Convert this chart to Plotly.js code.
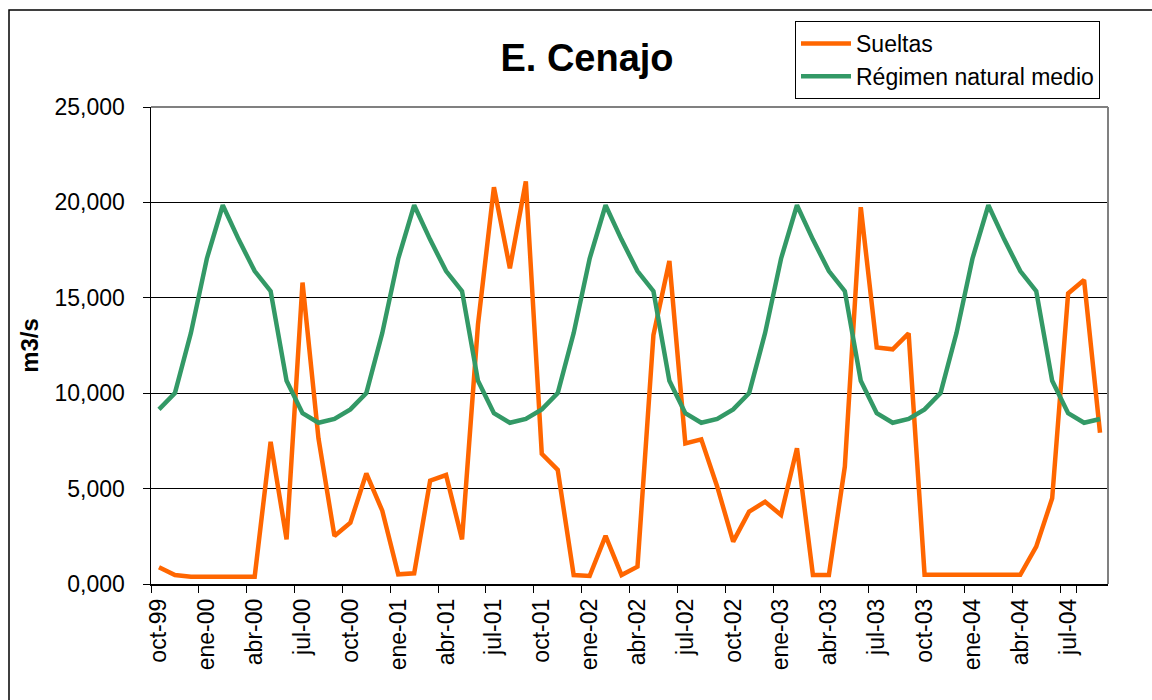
<!DOCTYPE html>
<html>
<head>
<meta charset="utf-8">
<script src="https://cdn.plot.ly/plotly-3.0.1.min.js"></script>
<style>
  html, body { margin: 0; padding: 0; background: #ffffff; }
  #chart { width: 1152px; height: 700px; }
</style>
</head>
<body>
<div id="chart"></div>
<script>
// ---- data ----
const months = [
  "oct-99","nov-99","dic-99","ene-00","feb-00","mar-00","abr-00","may-00","jun-00","jul-00","ago-00","sep-00",
  "oct-00","nov-00","dic-00","ene-01","feb-01","mar-01","abr-01","may-01","jun-01","jul-01","ago-01","sep-01",
  "oct-01","nov-01","dic-01","ene-02","feb-02","mar-02","abr-02","may-02","jun-02","jul-02","ago-02","sep-02",
  "oct-02","nov-02","dic-02","ene-03","feb-03","mar-03","abr-03","may-03","jun-03","jul-03","ago-03","sep-03",
  "oct-03","nov-03","dic-03","ene-04","feb-04","mar-04","abr-04","may-04","jun-04","jul-04","ago-04","sep-04"
];

const sueltas = [
  880, 470, 385, 385, 385, 385, 385, 7450, 2340, 15800, 7630, 2520,
  3210, 5800, 3840, 510, 560, 5420, 5710, 2340, 13600, 20800, 16550, 21100,
  6820, 5980, 470, 420, 2520, 470, 910, 13050, 16930, 7370, 7580, 5100,
  2220, 3790, 4310, 3620, 7110, 470, 470, 6150, 19750, 12400, 12300, 13140,
  490, 490, 480, 480, 480, 480, 480, 1960, 4490, 15230, 15930, 7930
];

const regimenNatural = [
  9150, 10000, 13150, 17050, 19850, 18050, 16400, 15350, 10650, 8950, 8450, 8650,
  9150, 10000, 13150, 17050, 19850, 18050, 16400, 15350, 10650, 8950, 8450, 8650,
  9150, 10000, 13150, 17050, 19850, 18050, 16400, 15350, 10650, 8950, 8450, 8650,
  9150, 10000, 13150, 17050, 19850, 18050, 16400, 15350, 10650, 8950, 8450, 8650,
  9150, 10000, 13150, 17050, 19850, 18050, 16400, 15350, 10650, 8950, 8450, 8650
];

const tickLabels = ["oct-99","ene-00","abr-00","jul-00","oct-00","ene-01","abr-01","jul-01","oct-01","ene-02",
  "abr-02","jul-02","oct-02","ene-03","abr-03","jul-03","oct-03","ene-04","abr-04","jul-04"];

const yTickVals = [0, 5000, 10000, 15000, 20000, 25000];
const yTickText = ["0,000", "5,000", "10,000", "15,000", "20,000", "25,000"];

const seriesNames = ["Sueltas", "Régimen natural medio"];

// ---- chart ----
const FONT = "Liberation Sans, Arial, sans-serif";

const traces = [
  {
    x: months, y: sueltas, name: seriesNames[0], type: "scatter", mode: "lines",
    line: { color: "#FF6600", width: 4.5, shape: "linear" }, hoverinfo: "skip"
  },
  {
    x: months, y: regimenNatural, name: seriesNames[1], type: "scatter", mode: "lines",
    line: { color: "#339966", width: 4.5, shape: "linear" }, hoverinfo: "skip"
  }
];

// plot area in pixels: x 151..1108, y 107..584
const L = 151, R = 44, T = 107, B = 116;
const PW = 1152 - L - R, PH = 700 - T - B;
const px = v => (v - L) / PW;
const py = v => (700 - B - v) / PH;

const layout = {
  width: 1152, height: 700,
  margin: { l: L, r: R, t: T, b: B, pad: 0 },
  paper_bgcolor: "#ffffff", plot_bgcolor: "#ffffff",
  font: { family: FONT, size: 23, color: "#000000" },
  title: {
    text: "<b>E. Cenajo</b>",
    font: { family: FONT, size: 38, color: "#000000" },
    x: 587 / 1152, xanchor: "center", xref: "container",
    y: 1 - 58 / 700, yanchor: "middle", yref: "container"
  },
  showlegend: true,
  legend: {
    x: px(795), y: py(21), xanchor: "left", yanchor: "top",
    bgcolor: "#ffffff", bordercolor: "#000000", borderwidth: 1,
    font: { family: FONT, size: 23, color: "#000000" },
    itemwidth: 50, tracegroupgap: 0
  },
  xaxis: {
    type: "category",
    categoryorder: "array", categoryarray: months,
    range: [-0.5, months.length - 0.5],
    tickmode: "array", tickvals: tickLabels, ticktext: tickLabels,
    tickson: "boundaries",
    ticks: "outside", ticklen: 7, tickwidth: 1, tickcolor: "#000000",
    tickangle: -90,
    ticklabelstandoff: 4,
    tickfont: { family: FONT, size: 23, color: "#000000" },
    showgrid: false, zeroline: false,
    showline: true, linecolor: "#000000", linewidth: 1.5,
    fixedrange: true
  },
  yaxis: {
    range: [0, 25000],
    tickmode: "array", tickvals: yTickVals, ticktext: yTickText,
    ticks: "outside", ticklen: 7, tickwidth: 1, tickcolor: "#000000",
    ticklabelstandoff: 13,
    tickfont: { family: FONT, size: 23, color: "#000000" },
    showgrid: true, gridcolor: "#000000", gridwidth: 1,
    zeroline: false,
    showline: true, linecolor: "#000000", linewidth: 1.5,
    title: { text: "<b>m3/s</b>", font: { family: FONT, size: 24, color: "#000000" }, standoff: 9 },
    fixedrange: true
  },
  shapes: [
    // plot-area border (top and right, grey)
    { type: "line", xref: "paper", yref: "paper", x0: 0, x1: 1, y0: 1, y1: 1,
      line: { color: "#808080", width: 2 } },
    { type: "line", xref: "paper", yref: "paper", x0: 1, x1: 1, y0: 0, y1: 1,
      line: { color: "#808080", width: 2 } },
    // outer chart frame
    { type: "rect", xref: "paper", yref: "paper",
      x0: px(9), x1: px(1170), y0: py(720), y1: py(10),
      line: { color: "#000000", width: 1.5 }, fillcolor: "rgba(0,0,0,0)" }
  ]
};

Plotly.newPlot("chart", traces, layout, { displayModeBar: false, staticPlot: true });
</script>
</body>
</html>
